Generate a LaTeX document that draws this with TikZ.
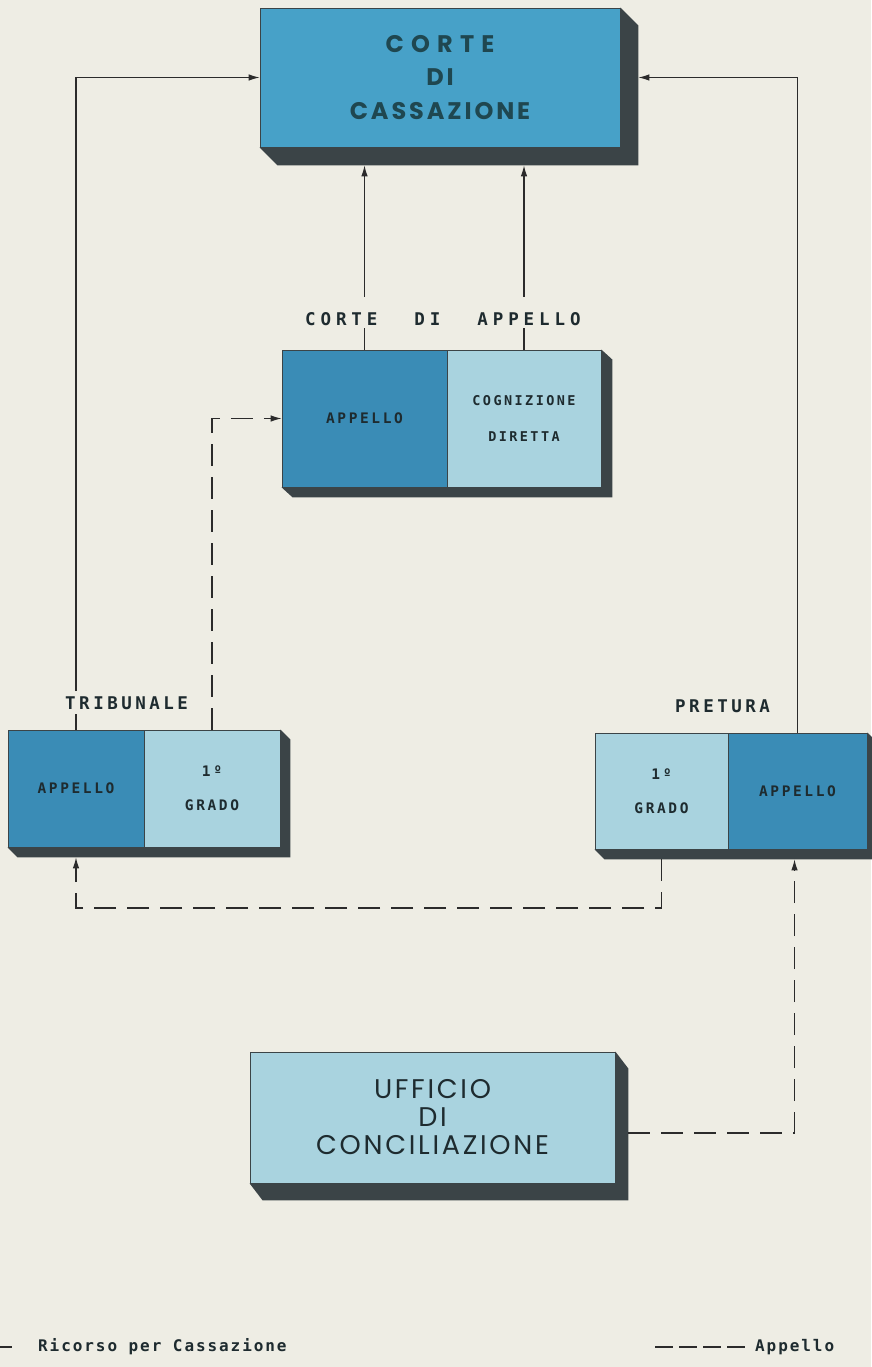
\documentclass[tikz,border=0pt]{standalone}
\usepackage{fontspec}
\usetikzlibrary{arrows.meta,calc}
\newfontfamily\bigfont[LetterSpace=12]{Poppins}
\newfontfamily\bigwide[LetterSpace=30]{Poppins}
\newfontfamily\ufffont[LetterSpace=10]{Poppins}
\newfontfamily\lblfont[LetterSpace=20]{DejaVu Sans Mono}
\newfontfamily\cdafont[LetterSpace=28]{DejaVu Sans Mono}
\newfontfamily\cellfont[LetterSpace=18]{DejaVu Sans Mono}
\newfontfamily\legfont[LetterSpace=12]{DejaVu Sans Mono}
\definecolor{bg}{HTML}{EEEDE4}
\definecolor{topblue}{HTML}{47A1C8}
\definecolor{darkblue}{HTML}{3A8CB6}
\definecolor{lightblue}{HTML}{A9D3DF}
\definecolor{shadecol}{HTML}{3B4447}
\definecolor{ink}{HTML}{1E2B2F}
\definecolor{tealink}{HTML}{1F4750}
\definecolor{linecol}{HTML}{2B2B2B}
\newcommand\boxshade[4]{%
  \fill[shadecol] (#2.north east) -- ++(#3,#4) -- ($(#2.south east)+(#3,#4)$)
    -- ($(#1.south west)+(#3,#4)$) -- (#1.south west) -- (#2.south east) -- cycle;}
\tikzset{
  face/.style={draw=shadecol, line width=0.8pt, inner sep=0pt, align=center},
  cellbox/.style={face, minimum height=#1},
  celltxt/.style={font=\cellfont\bfseries\fontsize{14.5}{34}\selectfont, text=ink},
  lbltxt/.style={font=\lblfont\bfseries\fontsize{17.5}{20}\selectfont, text=ink, inner sep=5pt},
  rline/.style={draw=linecol, line width=1.1pt},
  aline/.style={draw=linecol, line width=1.1pt, dash pattern=on 22pt off 11pt},
  tip/.style={-{Latex[length=11pt,width=6.5pt]}}
}
\begin{document}
\begin{tikzpicture}[x=1pt,y=-1pt]
\fill[bg] (0,0) rectangle (871,1367);
\useasboundingbox (0,0) rectangle (871,1367);

% Corte di Cassazione
\node[face, fill=topblue, minimum width=360pt, minimum height=139pt,
      font=\bigfont\bfseries\fontsize{24}{33.5}\selectfont, text=tealink] (cass) at (440,77.5)
  {{\bigwide CORTE}\\DI\\CASSAZIONE};
\boxshade{cass}{cass}{18}{18}
\coordinate (cassB) at ($(cass.south)+(0,18)$);
\coordinate (cassE) at ($(cass.east)+(18,0)$);

% Corte di Appello
\node[cellbox=137pt, minimum width=165pt, fill=darkblue, celltxt] (mapp) at (364.5,418.5) {APPELLO};
\node[cellbox=137pt, minimum width=154pt, fill=lightblue, celltxt, font=\cellfont\bfseries\fontsize{13.5}{36}\selectfont] (mcog) at (524,418.5) {COGNIZIONE\\DIRETTA};
\boxshade{mapp}{mcog}{11}{10}
\node[font=\cdafont\bfseries\fontsize{17.5}{20}\selectfont, text=ink, inner sep=0pt, anchor=base west] (cda) at (305,325)
  {CORTE\hspace{37pt}DI\hspace{37pt}APPELLO};

% Tribunale
\node[cellbox=117pt, minimum width=136pt, fill=darkblue, celltxt] (tapp) at (76,788.5) {APPELLO};
\node[cellbox=117pt, minimum width=136pt, fill=lightblue, celltxt] (tgr) at (212,788.5) {1º\\GRADO};
\boxshade{tapp}{tgr}{10}{10}
\node[lbltxt, anchor=base west] (trib) at (60,709) {TRIBUNALE};

% Pretura
\node[cellbox=116pt, minimum width=133pt, fill=lightblue, celltxt] (pgr) at (661.5,791) {1º\\GRADO};
\node[cellbox=116pt, minimum width=139pt, fill=darkblue, celltxt] (papp) at (797.5,791) {APPELLO};
\boxshade{pgr}{papp}{10}{10}
\node[lbltxt, anchor=base west] (pret) at (670,712) {PRETURA};

% Ufficio di Conciliazione
\node[face, fill=lightblue, minimum width=365pt, minimum height=131pt,
      font=\ufffont\fontsize{27}{28}\selectfont, text=ink] (uff) at (432.5,1117.5)
  {UFFICIO\\DI\\CONCILIAZIONE};
\boxshade{uff}{uff}{13}{17}

% Ricorso per Cassazione (solid)
\draw[rline] (tapp.north) -- (tapp.north |- trib.south);
\draw[rline, tip] (tapp.north |- trib.north) |- (cass.west);
\draw[rline, tip] (papp.north) |- (cassE);
\draw[rline] (mapp.north) -- (mapp.north |- {$(cda.south)+(0,3)$});
\draw[rline, tip] (mapp.north |- {$(cda.north)+(0,-15)$}) -- (mapp.north |- cassB);
\draw[rline] (mcog.north) -- (mcog.north |- {$(cda.south)+(0,3)$});
\draw[rline, tip] (mcog.north |- {$(cda.north)+(0,-15)$}) -- (mcog.north |- cassB);

% Appello (dashed)
\coordinate (dlow) at (0,908);
\draw[aline, tip] (tgr.north) |- (mapp.west);
\draw[aline, tip] ($(pgr.south)+(0,10)$) -- (pgr.south |- dlow) -| ($(tapp.south)+(0,10)$);
\draw[aline, tip] ($(uff.east)+(13,15.5)$) -| ($(papp.south)+(-3,10)$);

% Legend
\coordinate (legS) at (0,1347);
\coordinate (legE) at (12,1347);
\draw[rline] (legS) -- (legE);
\node[font=\legfont\bfseries\fontsize{16}{18}\selectfont, text=ink, anchor=west, inner sep=0pt] (legR) at (38,1347) {Ricorso per Cassazione};
\coordinate (legA) at (655,1347);
\coordinate (legB) at (745,1347);
\draw[rline, dash pattern=on 18pt off 6pt] (legA) -- (legB);
\node[font=\legfont\bfseries\fontsize{16}{18}\selectfont, text=ink, anchor=west, inner sep=0pt] (legP) at (755,1347) {Appello};
\end{tikzpicture}
\end{document}
